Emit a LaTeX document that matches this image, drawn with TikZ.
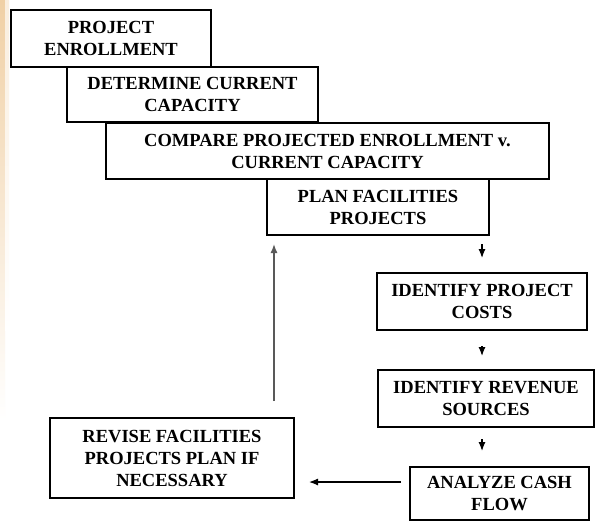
\documentclass[tikz,border=0pt]{standalone}
\usepackage{fontspec}
\setmainfont{Liberation Serif}
\usetikzlibrary{arrows.meta,calc}
\definecolor{stripA}{RGB}{240,208,165}
\definecolor{stripB}{RGB}{250,238,222}
\begin{document}
\begin{tikzpicture}[x=1pt,y=-1pt,
  box/.style={draw=black, line width=2pt, fill=white, inner sep=0pt, align=center,
    font=\fontsize{18.5}{22}\selectfont\bfseries},
  arr/.style={draw=black, line width=1.2pt, -{Latex[length=9pt,width=7pt]}},
  arrg/.style={draw=black!65, line width=1.4pt, -{Latex[length=9pt,width=7pt]}}]
\useasboundingbox (0,0) rectangle (595,522);
\fill[white] (0,0) rectangle (595,522);
\shade[top color=stripA, bottom color=white] (0,0) rectangle (5,420);
\shade[top color=stripB, bottom color=white] (5,0) rectangle (9,330);
% boxes
\node[box, minimum width=200pt, minimum height=57pt] (b1) at (111,38.5) {PROJECT\\ENROLLMENT};
\node[box, minimum width=251pt, minimum height=55pt] (b2) at (192.5,94.5) {DETERMINE CURRENT\\CAPACITY};
\node[box, minimum width=443pt, minimum height=56pt] (b3) at (327.5,151) {COMPARE PROJECTED ENROLLMENT v.\\CURRENT CAPACITY};
\node[box, minimum width=222pt, minimum height=56pt] (b4) at (378,207) {PLAN FACILITIES\\PROJECTS};
\node[box, minimum width=210pt, minimum height=57pt] (b5) at (482,301.5) {IDENTIFY PROJECT\\COSTS};
\node[box, minimum width=216pt, minimum height=57pt] (b6) at (486,398.5) {IDENTIFY REVENUE\\SOURCES};
\node[box, minimum width=179pt, minimum height=53pt] (b7) at (499.5,493.5) {ANALYZE CASH\\FLOW};
\node[box, minimum width=244pt, minimum height=80pt] (b8) at (172,458) {REVISE FACILITIES\\PROJECTS PLAN IF\\NECESSARY};
% connectors
\draw[arr, shorten <=8pt, shorten >=14pt] (b5.north |- b4.south) -- (b5.north);
\draw[arr, shorten <=15pt, shorten >=13pt] (b5.south) -- (b6.north -| b5.south);
\draw[arr, shorten <=11pt, shorten >=15pt] (b5.south |- b6.south) -- (b5.south |- b7.north);
\draw[arr, shorten <=8pt, shorten >=14pt] ([yshift=11.5pt]b7.west) -- ([yshift=11.5pt]b7.west -| b8.east);
\draw[arrg, shorten <=16pt, shorten >=8pt] ([xshift=8pt]b4.south west |- b8.north) -- ([xshift=8pt]b4.south west);
\end{tikzpicture}
\end{document}
